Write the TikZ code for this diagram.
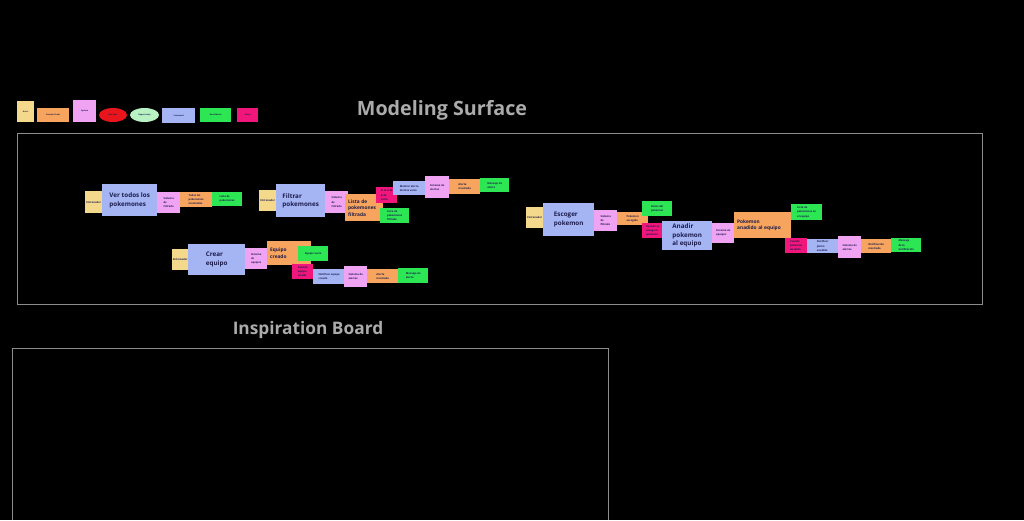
\documentclass[tikz,border=0pt]{standalone}
\usepackage{fontspec}
\setmainfont{Open Sans}
\usepackage{tikz}
\usetikzlibrary{shapes.geometric}

\definecolor{actorc}{HTML}{F4D88C}
\definecolor{eventc}{HTML}{F6A45E}
\definecolor{systemc}{HTML}{F0A3F3}
\definecolor{hotc}{HTML}{E8161C}
\definecolor{oppc}{HTML}{B8F2C2}
\definecolor{cmdc}{HTML}{A5B5F4}
\definecolor{readc}{HTML}{2DE654}
\definecolor{policyc}{HTML}{F0167C}
\definecolor{inkc}{HTML}{1C1C4C}
\definecolor{framec}{HTML}{8C8C8C}
\definecolor{titlec}{HTML}{ABABAB}

\newcommand{\stxt}{\fontsize{2.6}{4.2}\selectfont\bfseries}
\newcommand{\btxt}{\fontsize{4.8}{6.5}\selectfont\bfseries}
\newcommand{\ctxt}{\fontsize{6.3}{8.5}\selectfont\bfseries}
\newcommand{\ltxt}{\fontsize{2}{2.5}\selectfont\bfseries}

\tikzset{
  sticky/.style={inner sep=0.8pt, align=left, text=inkc, font=\stxt, anchor=north west},
  actorbox/.style={sticky, fill=actorc},
  eventbox/.style={sticky, fill=eventc},
  systembox/.style={sticky, fill=systemc},
  cmdbox/.style={sticky, fill=cmdc, font=\ctxt},
  readbox/.style={sticky, fill=readc},
  policybox/.style={sticky, fill=policyc},
  bigevent/.style={eventbox, font=\btxt, inner xsep=3pt},
  legend/.style={font=\ltxt},
  boardtitle/.style={font=\bfseries\fontsize{19.7}{24}\selectfont, text=titlec},
}

\begin{document}
\begin{tikzpicture}[x=1pt,y=-1pt]
  \useasboundingbox (0,0) rectangle (1024,520);
  \fill[black] (0,0) rectangle (1024,520);

  % legend
  \node[actorbox, legend, minimum width=17, minimum height=21] (legactor) at (17,101) {Actor};
  \node[eventbox, legend, minimum width=32, minimum height=14] (legevent) at (37,108) {Domain Event};
  \node[systembox, legend, minimum width=23, minimum height=22] (legsystem) at (73,100) {System};
  \node[ellipse, fill=hotc, text=inkc, legend, minimum width=28, minimum height=14, inner sep=0] (leghot) at (113,115) {Hot Spot};
  \node[ellipse, fill=oppc, text=inkc, legend, minimum width=29, minimum height=14, inner sep=0] (legopp) at (144.5,115) {Opportunity};
  \node[cmdbox, legend, minimum width=33, minimum height=15] (legcmd) at (162,108) {Command};
  \node[readbox, legend, minimum width=31, minimum height=14] (legread) at (200,108) {Read Model};
  \node[policybox, legend, minimum width=21, minimum height=14] (legpolicy) at (237,108) {Policy};

  \node[boardtitle] (modtitle) at (442,110) {Modeling Surface};
  \draw[framec, line width=0.8] (17,133) rectangle (982,304);
  \node[boardtitle, font=\bfseries\fontsize{17.3}{21}\selectfont] (insptitle) at (308,330) {Inspiration Board};
  \draw[framec, line width=0.8] (12,520) -- (12,348) -- (608,348) -- (608,520);

  % ver todos
  \node[actorbox, minimum width=17, minimum height=22] (actorA) at (85,191) {Entrenador};
  \node[cmdbox, minimum width=55, minimum height=32] (verTodos) at (102,184) {Ver todos los\\pokemones};
  \node[systembox, minimum width=23, minimum height=21] (sysA) at (157,192) {Sistema\\de\\Filtrado};
  \node[eventbox, minimum width=32, minimum height=15] (evtA) at (180,192) {Todos los\\pokemones\\mostrados};
  \node[readbox, minimum width=30, minimum height=14] (readA) at (212,192) {Lista de\\pokemones};

  % filtrar
  \node[actorbox, minimum width=17, minimum height=21] (actorB) at (259,190) {Entrenador};
  \node[cmdbox, minimum width=49, minimum height=33] (filtrar) at (276,184) {Filtrar\\pokemones};
  \node[systembox, minimum width=23, minimum height=22] (sysB) at (325,191) {Sistema\\de\\Filtrado};
  \node[bigevent, text width=32, minimum width=38, minimum height=27] (evtB) at (345,194) {Lista de\\pokemones\\filtrada};
  \node[policybox, minimum width=21, minimum height=16] (polB) at (376,187) {Si la lista\\está\\vacía};
  \node[readbox, minimum width=29, minimum height=15] (readB) at (380,208) {Lista de\\pokemones\\filtrada};
  \node[cmdbox, font=\stxt, minimum width=32, minimum height=14] (alertaB) at (393,181) {Mostrar alerta\\de lista vacía};
  \node[systembox, minimum width=24, minimum height=22] (sysBb) at (425,176) {Sistema de\\alertas};
  \node[eventbox, minimum width=31, minimum height=15] (evtBb) at (449,179) {Alerta\\mostrada};
  \node[readbox, minimum width=29, minimum height=14] (readBb) at (480,178) {Mensaje de\\alerta};

  % crear equipo
  \node[actorbox, minimum width=16, minimum height=21] (actorC) at (172,249) {Entrenador};
  \node[cmdbox, minimum width=57, minimum height=31] (crear) at (188,244) {Crear\\equipo};
  \node[systembox, minimum width=22, minimum height=21] (sysC) at (245,248) {Sistema\\de\\equipos};
  \node[bigevent, text width=38, minimum width=44, minimum height=24] (evtC) at (267,241) {Equipo\\creado};
  \node[readbox, minimum width=30, minimum height=15] (readC) at (298,246) {Equipo vacío};
  \node[policybox, minimum width=21, minimum height=15] (polC) at (292,264) {Cuando\\equipo\\creado};
  \node[cmdbox, font=\stxt, minimum width=32, minimum height=15] (notifC) at (313,269) {Notificar equipo\\creado};
  \node[systembox, minimum width=23, minimum height=21] (sysCb) at (344,266) {Sistema de\\alertas};
  \node[eventbox, minimum width=31, minimum height=14] (evtCb) at (367,269) {Alerta\\mostrada};
  \node[readbox, minimum width=30, minimum height=15] (readCb) at (398,268) {Mensaje de\\alerta};

  % escoger y anadir
  \node[actorbox, minimum width=17, minimum height=21] (actorD) at (526,207) {Entrenador};
  \node[cmdbox, minimum width=51, minimum height=33] (escoger) at (543,203) {Escoger\\pokemon};
  \node[systembox, minimum width=23, minimum height=21] (sysD) at (594,210) {Sistema\\de\\filtrado};
  \node[eventbox, minimum width=31, minimum height=13] (evtD) at (617,212) {Pokemon\\escogido};
  \node[readbox, minimum width=30, minimum height=15] (readD) at (642,201) {Datos del\\pokemon};
  \node[policybox, minimum width=21, minimum height=15] (polD) at (642,223) {Cuando se\\escoge el\\pokemon};
  \node[cmdbox, minimum width=50, minimum height=29] (anadir) at (662,221) {Anadir\\pokemon\\al equipo};
  \node[systembox, minimum width=22, minimum height=20] (sysE) at (712,223) {Sistema de\\equipos};
  \node[bigevent, text width=51, minimum width=57, minimum height=26] (evtE) at (734,212) {Pokemon\\anadido al equipo};
  \node[readbox, minimum width=31, minimum height=16] (readE) at (791,204) {Lista de\\pokemones en\\el equipo};
  \node[policybox, minimum width=22, minimum height=15] (polE) at (785,238) {Cuando\\pokemon\\anadido};
  \node[cmdbox, font=\stxt, minimum width=31, minimum height=14] (notifE) at (807,239) {Notificar\\pkmn\\anadido};
  \node[systembox, minimum width=23, minimum height=22] (sysEb) at (838,236) {Sistema de\\alertas};
  \node[eventbox, minimum width=30, minimum height=14] (evtEb) at (861,239) {Notificación\\mostrada};
  \node[readbox, minimum width=30, minimum height=14] (readEb) at (891,238) {Mensaje\\de la\\notificación};
\end{tikzpicture}
\end{document}
